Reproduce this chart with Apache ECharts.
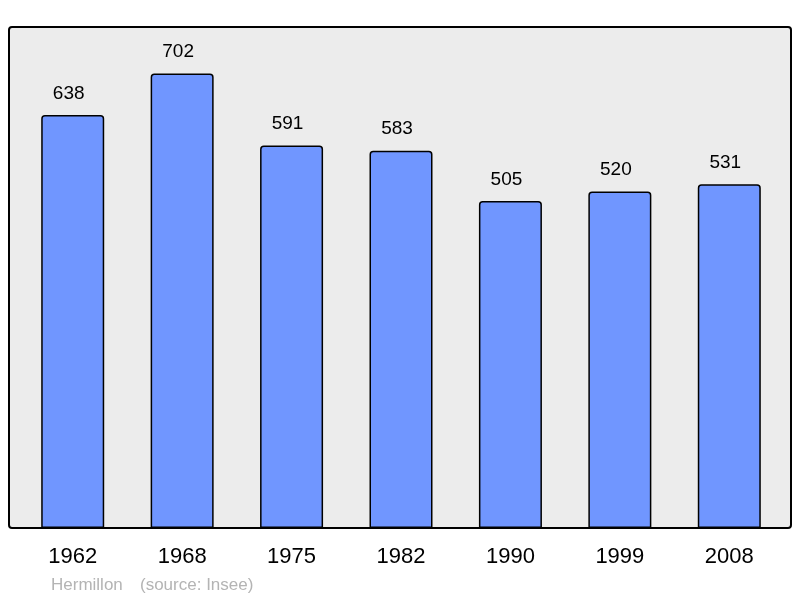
<!DOCTYPE html>
<html>
<head>
<meta charset="utf-8">
<script src="https://cdn.jsdelivr.net/npm/echarts@6/dist/echarts.min.js"></script>
<style>html,body{margin:0;padding:0;background:#fff}#c{width:800px;height:598px}</style>
</head>
<body>
<div id="c"></div>
<script>
const categories = ['1962', '1968', '1975', '1982', '1990', '1999', '2008'];
const population = [638, 702, 591, 583, 505, 520, 531];
const footerName = 'Hermillon';
const footerSource = '(source: Insee)';

const FONT = 'Liberation Sans, Arial, sans-serif';
const chart = echarts.init(document.getElementById('c'), null, {renderer: 'canvas'});
chart.setOption({
  animation: false,
  backgroundColor: '#ffffff',
  textStyle: {fontFamily: FONT},
  graphic: [
    {type: 'rect', z: -10, shape: {x: 9, y: 27, width: 782, height: 501, r: 3},
     style: {fill: '#ececec', stroke: '#000', lineWidth: 2}},
    {type: 'text', left: 51, top: 577,
     style: {text: footerName, fill: '#b4b4b4', font: '17px ' + FONT}},
    {type: 'text', left: 140, top: 577,
     style: {text: footerSource, fill: '#b4b4b4', font: '17px ' + FONT}}
  ],
  grid: {left: 18, right: 16, top: 27, bottom: 70},
  xAxis: {
    type: 'category', data: categories,
    axisLine: {show: false}, axisTick: {show: false},
    axisLabel: {color: '#000', fontSize: 22, margin: 18, fontFamily: FONT}
  },
  yAxis: {type: 'value', min: 0, max: 774, show: false, splitLine: {show: false}},
  series: [{
    type: 'bar', data: population, barWidth: 63,
    itemStyle: {color: '#7096ff', borderColor: '#000', borderWidth: 1.5, borderRadius: [3, 3, 0, 0]},
    label: {show: true, position: 'top', distance: 12, offset: [-4, 0], color: '#000', fontSize: 19, fontFamily: FONT}
  }]
});
</script>
</body>
</html>
